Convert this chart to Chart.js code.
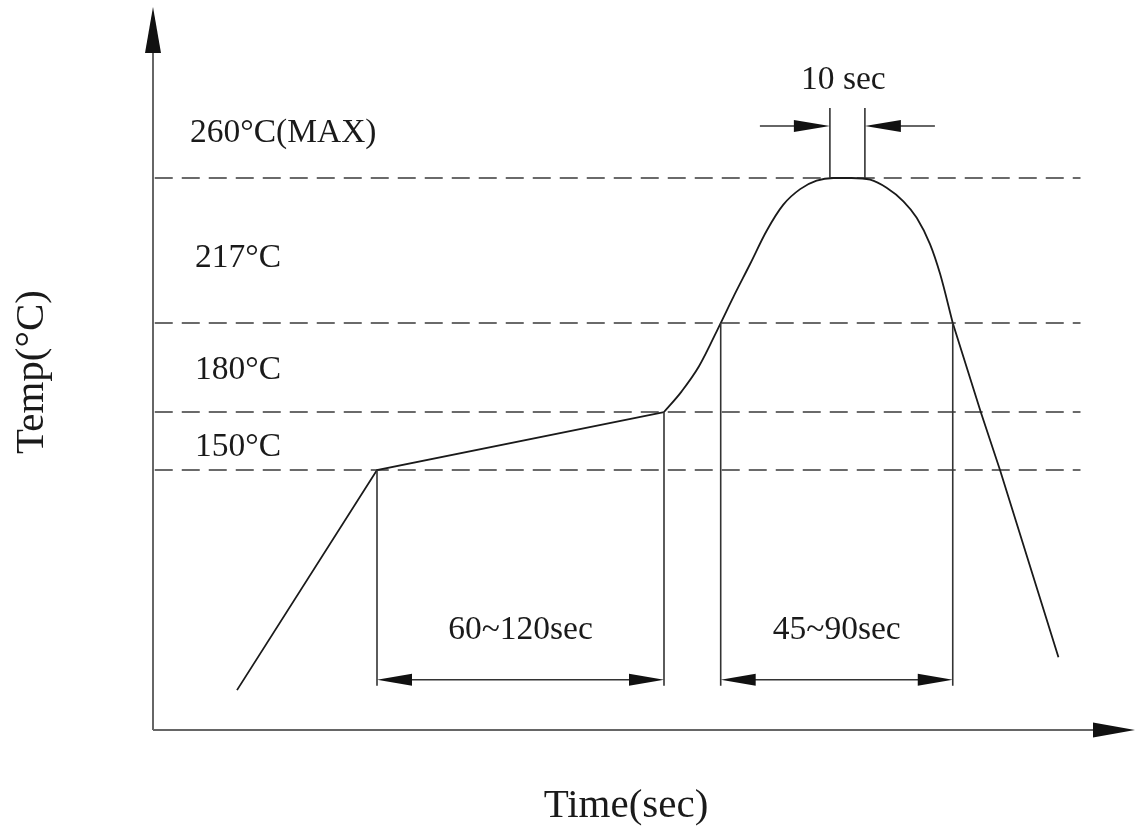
<!DOCTYPE html>
<html>
<head>
<meta charset="utf-8">
<script src="https://cdn.jsdelivr.net/npm/chart.js@4.4.1/dist/chart.umd.min.js"></script>
<style>
    html, body { margin: 0; padding: 0; background: #fff; }
    #wrap { width: 1137px; height: 834px; position: relative; }
</style>
</head>
<body>
<div id="wrap"><canvas id="profileChart"></canvas></div>
<script>
// Reflow profile (time in sec, temperature in °C)
const rampTime = [24, 64, 146];
const rampTemp = [23, 150, 180];
const reflowTime = [146, 151, 156, 162.2, 165.8, 170.6, 175.3, 180.1, 184.9, 189.6, 194.4, 199.6, 204.9, 209.6, 214.4, 218.2, 222, 224.9, 228.5];
const reflowTemp = [180, 188.5, 199, 217, 224.7, 234.5, 244.3, 252.1, 256.7, 259.2, 260, 260, 259.5, 257.1, 253.1, 248.2, 240.4, 231.5, 217];
const coolTime = [228.5, 236.5, 242, 258.7];
const coolTemp = [217, 180, 150, 42];

const levelTemps = [260, 217, 180, 150];
const levelLabels = ['260°C(MAX)', '217°C', '180°C', '150°C'];

const soakWindow = [64, 146];         // 60~120sec
const reflowWindow = [162.2, 228.5];  // 45~90sec
const peakWindow = [193.4, 203.4];    // 10 sec
const windowLabels = ['60~120sec', '45~90sec', '10 sec'];

// schematic temperature axis: not linear, levels are spread by hand
const scaleTemps = [0, 150, 180, 217, 260, 310];
const scaleSteps = [0, 0.3596, 0.4398, 0.5629, 0.7635, 1];

function lookup(from, to, v) {
    let i = 0;
    while (i < from.length - 2 && v > from[i + 1]) i++;
    const f = (v - from[i]) / (from[i + 1] - from[i]);
    return to[i] + f * (to[i + 1] - to[i]);
}

class ProfileScale extends Chart.LinearScale {
    getPixelForValue(value) {
        const f = lookup(scaleTemps, scaleSteps, value);
        return this.bottom - f * (this.bottom - this.top);
    }
    getValueForPixel(pixel) {
        const f = (this.bottom - pixel) / (this.bottom - this.top);
        return lookup(scaleSteps, scaleTemps, f);
    }
}
ProfileScale.id = 'profile';
ProfileScale.defaults = Chart.LinearScale.defaults;
Chart.register(ProfileScale);

const pts = (xs, ys) => xs.map((x, i) => ({ x: x, y: ys[i] }));

const lineStyle = {
    borderColor: '#1a1a1a',
    borderWidth: 1.8,
    pointRadius: 0,
    fill: false
};

const datasets = [
    Object.assign({ data: pts(rampTime, rampTemp), tension: 0 }, lineStyle),
    Object.assign({ data: pts(reflowTime, reflowTemp), cubicInterpolationMode: 'monotone' }, lineStyle),
    Object.assign({ data: pts(coolTime, coolTemp), tension: 0 }, lineStyle)
];
levelTemps.forEach(function (t) {
    datasets.push({
        data: [{ x: 0.5, y: t }, { x: 265, y: t }],
        borderColor: '#3a3a3a',
        borderWidth: 1.6,
        borderDash: [18, 9],
        pointRadius: 0,
        fill: false
    });
});

function arrowHead(ctx, tipX, tipY, dx, dy, len, half) {
    const bx = tipX - dx * len, by = tipY - dy * len;
    ctx.beginPath();
    ctx.moveTo(tipX, tipY);
    ctx.lineTo(bx - dy * half, by + dx * half);
    ctx.lineTo(bx + dy * half, by - dx * half);
    ctx.closePath();
    ctx.fill();
}

function line(ctx, x1, y1, x2, y2) {
    ctx.beginPath();
    ctx.moveTo(x1, y1);
    ctx.lineTo(x2, y2);
    ctx.stroke();
}

const drawingPlugin = {
    id: 'drawing',
    afterDatasetsDraw(chart) {
        const ctx = chart.ctx;
        const area = chart.chartArea;
        const xs = chart.scales.x, ys = chart.scales.y;
        const X = v => xs.getPixelForValue(v);
        const Y = v => ys.getPixelForValue(v);
        ctx.save();

        // axes
        ctx.strokeStyle = '#666';
        ctx.lineWidth = 2;
        line(ctx, area.left, area.bottom, area.left, area.top + 40);
        line(ctx, area.left, area.bottom, area.right - 35, area.bottom);
        ctx.fillStyle = '#111';
        arrowHead(ctx, area.left, area.top, 0, -1, 46, 8);
        arrowHead(ctx, area.right + 2, area.bottom, 1, 0, 42, 7.5);

        // dimension lines
        ctx.strokeStyle = '#333';
        ctx.lineWidth = 1.6;
        const dimTemp = 29;
        const dimY = Y(dimTemp);
        [[soakWindow, [150, 180]], [reflowWindow, [217, 217]]].forEach(function (d) {
            const w = d[0], tops = d[1];
            const x1 = X(w[0]), x2 = X(w[1]);
            line(ctx, x1, Y(tops[0]), x1, dimY + 6);
            line(ctx, x2, Y(tops[1]), x2, dimY + 6);
            line(ctx, x1 + 20, dimY, x2 - 20, dimY);
            ctx.fillStyle = '#111';
            arrowHead(ctx, x1, dimY, -1, 0, 35, 6);
            arrowHead(ctx, x2, dimY, 1, 0, 35, 6);
        });

        // 10 sec at peak
        const peakY = Y(260);
        const p1 = X(peakWindow[0]), p2 = X(peakWindow[1]);
        line(ctx, p1, peakY, p1, peakY - 70);
        line(ctx, p2, peakY, p2, peakY - 70);
        const pay = peakY - 52;
        line(ctx, p1 - 70, pay, p1 - 20, pay);
        line(ctx, p2 + 20, pay, p2 + 70, pay);
        arrowHead(ctx, p1, pay, 1, 0, 36, 6);
        arrowHead(ctx, p2, pay, -1, 0, 36, 6);

        // texts
        ctx.fillStyle = '#1a1a1a';
        ctx.textBaseline = 'middle';
        ctx.font = '33.5px "Liberation Serif", "Times New Roman", serif';
        ctx.textAlign = 'left';
        const labelRise = [45, 65, 42, 23];
        const labelLeft = [37, 42, 42, 42];
        levelTemps.forEach(function (t, i) {
            ctx.fillText(levelLabels[i], area.left + labelLeft[i], Y(t) - labelRise[i]);
        });
        ctx.textAlign = 'center';
        ctx.fillText(windowLabels[0], (X(soakWindow[0]) + X(soakWindow[1])) / 2, dimY - 50);
        ctx.fillText(windowLabels[1], (X(reflowWindow[0]) + X(reflowWindow[1])) / 2, dimY - 50);
        ctx.fillText(windowLabels[2], (p1 + p2) / 2 - 4, peakY - 98);

        ctx.font = '41px "Liberation Serif", "Times New Roman", serif';
        ctx.fillText('Time(sec)', 626, 806);
        ctx.translate(32, 372);
        ctx.rotate(-Math.PI / 2);
        ctx.fillText('Temp(°C)', 0, 0);
        ctx.restore();
    }
};

new Chart(document.getElementById('profileChart').getContext('2d'), {
    type: 'line',
    data: { datasets: datasets },
    options: {
        responsive: true,
        maintainAspectRatio: false,
        animation: false,
        layout: { padding: { left: 153, top: 7, right: 4, bottom: 104 } },
        plugins: {
            legend: { display: false },
            tooltip: { enabled: false }
        },
        scales: {
            x: { type: 'linear', min: 0, max: 280, display: false },
            y: { type: 'profile', min: 0, max: 310, display: false }
        }
    },
    plugins: [drawingPlugin]
});
</script>
</body>
</html>
